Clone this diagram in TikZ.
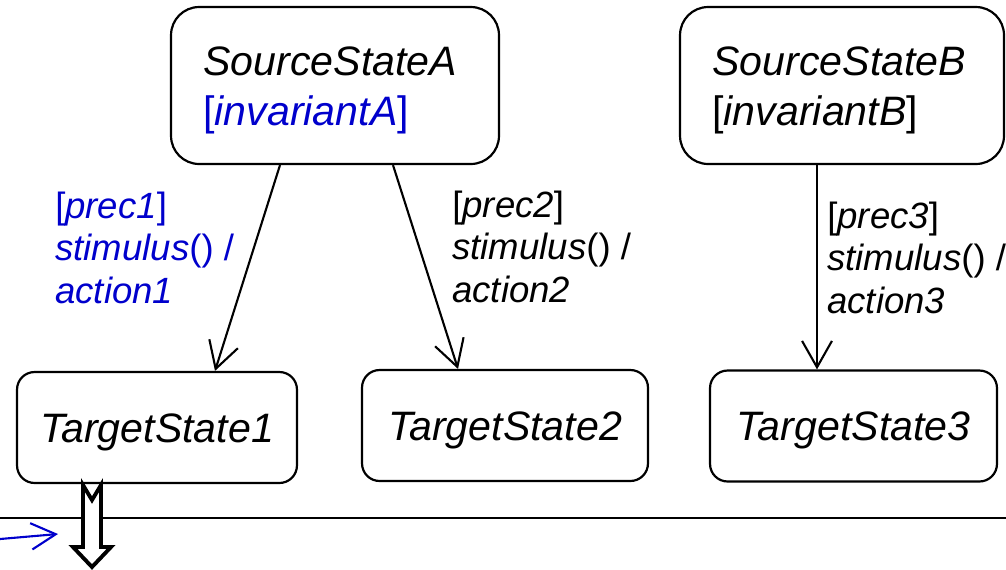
\documentclass[tikz,border=0pt]{standalone}
\usepackage{fontspec}
\setmainfont{Liberation Sans}
\usetikzlibrary{arrows.meta,calc}
\definecolor{umlblue}{RGB}{0,0,204}

\tikzset{
  statebox/.style={draw, line width=1.25pt, fill=white, inner sep=0pt},
  srcbox/.style={statebox, rounded corners=16pt, minimum height=3.14cm},
  tgtbox/.style={statebox, rounded corners=10pt, minimum height=2.22cm,
    font=\fontsize{23.4}{28.4}\selectfont, text height=16.75pt, text depth=0pt},
  % multi-line texts are placed by the baseline of their last line
  statetext/.style={anchor=base west, inner sep=0pt, align=left,
    font=\fontsize{23.4}{28.4}\selectfont},
  guard/.style={anchor=base west, inner sep=0pt, align=left,
    font=\fontsize{20.8}{24.1}\selectfont},
  trans/.style={line width=1.2pt, -{Straight Barb[length=15pt, width=17pt, line width=1.2pt]}},
  incoming/.style={umlblue, line width=1.2pt, -{Straight Barb[length=14pt, width=15pt, line width=1.2pt]}},
  bigarrow/.style={draw, line width=2.2pt, fill=white, line join=miter}
}

\begin{document}
\begin{tikzpicture}[x=0.02cm, y=-0.02cm]
\useasboundingbox (0,0) rectangle (1006,569);

% source states
\node[srcbox, minimum width=6.56cm] (srcA) at (335,85.5) {};
\node[statetext] (srcAtext) at (203,125)
  {\textit{SourceStateA}\\\textcolor{umlblue}{[\textit{invariantA}]}};
\node[srcbox, minimum width=6.48cm] (srcB) at (842,85.5) {};
\node[statetext] (srcBtext) at (712,125)
  {\textit{SourceStateB}\\{}[\textit{invariantB}]};

% target states
\node[tgtbox, minimum width=5.6cm] (tgt1) at (157,427.5) {\textit{TargetState1}};
\node[tgtbox, minimum width=5.72cm] (tgt2) at (505,425.5) {\textit{TargetState2}};
\node[tgtbox, minimum width=5.74cm] (tgt3) at (853.5,426) {\textit{TargetState3}};

% transitions
\draw[trans] ($(srcA.south)+(-55,0)$) -- ($(tgt1.north)+(58,0)$);
\draw[trans] ($(srcA.south)+(58,0)$) -- ($(tgt2.north)+(-47,0)$);
\draw[trans] ($(srcB.south)+(-25,0)$) -- ($(tgt3.north)+(-36.5,0)$);

% transition labels
\node[guard, umlblue] (lbl1) at (55,303)
  {[\textit{prec1}]\\\textit{stimulus}() /\\\textit{action1}};
\node[guard] (lbl2) at (452,302)
  {[\textit{prec2}]\\\textit{stimulus}() /\\\textit{action2}};
\node[guard] (lbl3) at (827,313)
  {[\textit{prec3}]\\\textit{stimulus}() /\\\textit{action3}};

% separator line and incoming arrow
\coordinate (sepL) at (0,518);
\coordinate (sepR) at (1006,518);
\draw[line width=1.2pt] (sepL) -- (sepR);
\coordinate (inStart) at (0,539);
\coordinate (inEnd) at (58,534);
\draw[incoming] (inStart) -- (inEnd);

% hollow outgoing arrow below TargetState1
\draw[bigarrow] (83,485) -- (92,500) -- (101,485) -- (101,547) -- (111,547)
  -- (92,567) -- (73,547) -- (83,547) -- cycle;
\end{tikzpicture}
\end{document}
